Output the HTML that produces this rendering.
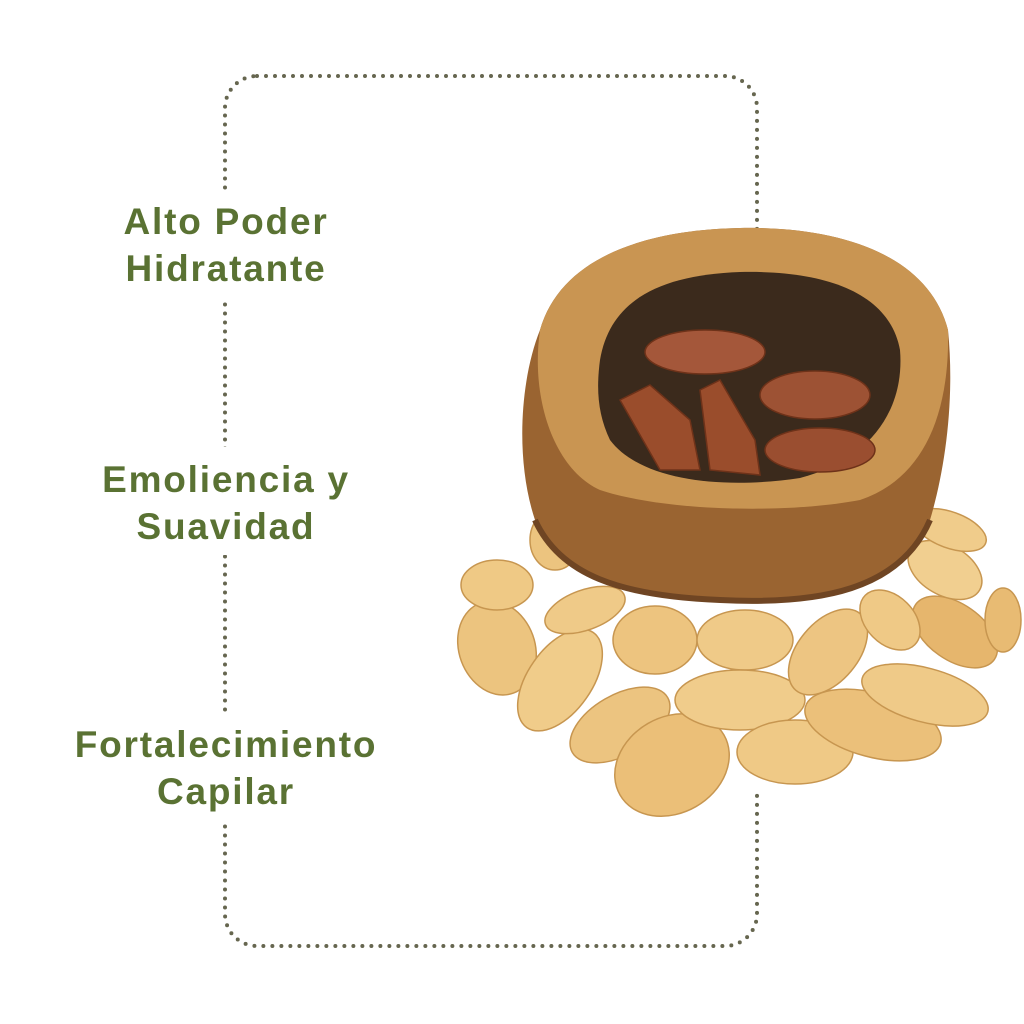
<!DOCTYPE html>
<html><head><meta charset="utf-8"><style>
html,body{margin:0;padding:0;background:#fff;}
body{width:1024px;height:1024px;position:relative;overflow:hidden;font-family:"Liberation Sans",sans-serif;}
.t{position:absolute;left:-14px;width:480px;text-align:center;color:#5a7233;font-weight:bold;font-size:37px;line-height:47px;letter-spacing:1.8px;}
</style></head><body>
<svg width="1024" height="1024" style="position:absolute;left:0;top:0">
<rect x="225" y="76" width="532" height="870" rx="32" fill="none" stroke="#66664f" stroke-width="4" stroke-linecap="round" stroke-dasharray="0 9"/>
<rect x="60" y="190" width="340" height="110" fill="#fff"/>
<rect x="60" y="447" width="340" height="108" fill="#fff"/>
<rect x="60" y="712" width="340" height="108" fill="#fff"/>
<rect x="740" y="590" width="40" height="200" fill="#fff"/>
<!-- nuts -->
<g stroke="#c79650" stroke-width="1.5">
<ellipse cx="497" cy="648" rx="38" ry="48" fill="#ecc47f" transform="rotate(-20 497 648)"/>
<ellipse cx="497" cy="585" rx="36" ry="25" fill="#efc985"/>
<ellipse cx="560" cy="680" rx="32" ry="58" fill="#f0cc8a" transform="rotate(35 560 680)"/>
<ellipse cx="620" cy="725" rx="30" ry="55" fill="#ecc480" transform="rotate(60 620 725)"/>
<ellipse cx="672" cy="765" rx="60" ry="48" fill="#ebbf78" transform="rotate(-30 672 765)"/>
<ellipse cx="655" cy="640" rx="42" ry="34" fill="#edc47f"/>
<ellipse cx="745" cy="640" rx="48" ry="30" fill="#efca88"/>
<ellipse cx="740" cy="700" rx="65" ry="30" fill="#f0cc8b"/>
<ellipse cx="795" cy="752" rx="58" ry="32" fill="#efc986"/>
<ellipse cx="828" cy="652" rx="30" ry="50" fill="#edc582" transform="rotate(40 828 652)"/>
<ellipse cx="873" cy="725" rx="70" ry="32" fill="#ebc07a" transform="rotate(15 873 725)"/>
<ellipse cx="925" cy="695" rx="65" ry="27" fill="#efca88" transform="rotate(15 925 695)"/>
<ellipse cx="955" cy="632" rx="48" ry="28" fill="#e6b66d" transform="rotate(35 955 632)"/>
<ellipse cx="890" cy="620" rx="35" ry="24" fill="#efc986" transform="rotate(45 890 620)"/>
<ellipse cx="945" cy="570" rx="40" ry="25" fill="#f1cf90" transform="rotate(30 945 570)"/>
<ellipse cx="1003" cy="620" rx="18" ry="32" fill="#e8bb73"/>
<ellipse cx="950" cy="530" rx="38" ry="18" fill="#f0cc8b" transform="rotate(20 950 530)"/>
<ellipse cx="585" cy="610" rx="42" ry="20" fill="#efca88" transform="rotate(-20 585 610)"/>
<ellipse cx="555" cy="540" rx="25" ry="30" fill="#ecc47f"/>
</g>
<!-- shell -->
<path d="M540 330 C560 260 640 230 740 228 C850 226 930 260 948 330 C955 400 945 470 930 520 C900 590 820 605 720 600 C620 596 560 575 535 520 C515 460 520 380 540 330 Z" fill="#9a6431"/>
<path d="M540 330 C560 260 640 230 740 228 C850 226 930 260 948 330 C950 420 920 480 860 500 C780 515 660 510 600 490 C555 470 530 400 540 330 Z" fill="#c99552"/>
<path d="M600 360 C610 300 660 275 740 272 C830 270 890 295 900 350 C905 410 870 460 800 478 C720 490 640 480 610 440 C598 415 596 390 600 360 Z" fill="#3b2a1c"/>
<g fill="#9a4d2c" stroke="#6e3219" stroke-width="1.5">
<path d="M620 400 L650 385 L690 420 L700 470 L660 470 Z"/>
<path d="M700 390 L720 380 L755 440 L760 475 L710 470 Z"/>
<ellipse cx="705" cy="352" rx="60" ry="22" fill="#a4573a"/>
<ellipse cx="815" cy="395" rx="55" ry="24" fill="#9d5234"/>
<ellipse cx="820" cy="450" rx="55" ry="22" fill="#9a4e30"/>
</g>
<path d="M535 520 C560 575 620 596 720 600 C820 605 900 590 930 520" fill="none" stroke="#6f4523" stroke-width="6"/>
</svg>
<div class="t" style="top:198px">Alto Poder<br>Hidratante</div>
<div class="t" style="top:456px">Emoliencia y<br>Suavidad</div>
<div class="t" style="top:721px">Fortalecimiento<br>Capilar</div>
</body></html>
